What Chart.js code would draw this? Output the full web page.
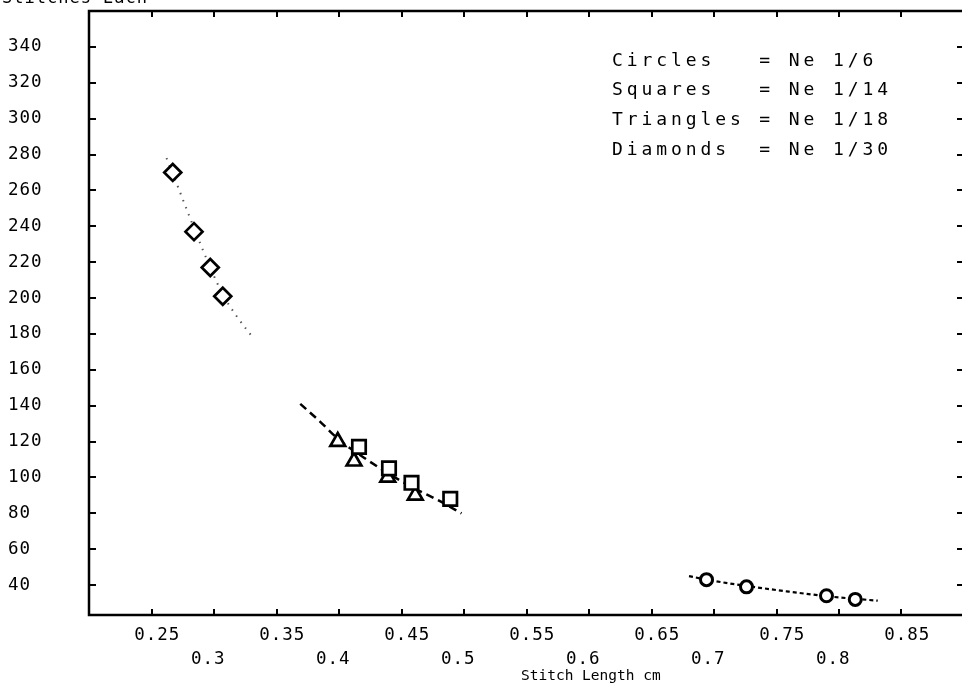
<!DOCTYPE html>
<html><head><meta charset="utf-8">
<script src="https://cdn.jsdelivr.net/npm/chart.js@4/dist/chart.umd.min.js"></script>
<style>html,body{margin:0;padding:0;background:#fff;overflow:hidden}canvas{display:block}</style>
</head><body>
<canvas id="c" width="966" height="688" style="width:966px;height:688px"></canvas>
<script>
// ---- data ----
const circlesX   = [0.694, 0.726, 0.790, 0.813];
const circlesY   = [43, 39, 34, 32];
const squaresX   = [0.416, 0.440, 0.458, 0.489];
const squaresY   = [117, 105, 97, 88];
const trianglesX = [0.399, 0.412, 0.439, 0.461];
const trianglesY = [120, 109, 100, 90];
const diamondsX  = [0.267, 0.284, 0.297, 0.307];
const diamondsY  = [270, 237, 217, 201];

const fitDiamondsX = [0.262, 0.270, 0.284, 0.297, 0.307, 0.318, 0.331];
const fitDiamondsY = [278, 264, 239, 217, 202, 190, 178];
const fitMidX = [0.369, 0.385, 0.400, 0.420, 0.440, 0.460, 0.480, 0.498];
const fitMidY = [141, 131, 121, 111, 102, 94, 87, 80];
const fitCirclesX = [0.680, 0.694, 0.726, 0.760, 0.790, 0.813, 0.831];
const fitCirclesY = [45, 43, 39.5, 36.3, 33.8, 32.3, 31.3];

const xTickValues = [0.25,0.30,0.35,0.40,0.45,0.50,0.55,0.60,0.65,0.70,0.75,0.80,0.85];
const xUpperLabels = ["0.25","","0.35","","0.45","","0.55","","0.65","","0.75","","0.85"];
const xLowerLabels = ["","0.3","","0.4","","0.5","","0.6","","0.7","","0.8",""];
const yTickValues = [40,60,80,100,120,140,160,180,200,220,240,260,280,300,320,340];

const legendLines = ["Circles   = Ne 1/6","Squares   = Ne 1/14","Triangles = Ne 1/18","Diamonds  = Ne 1/30"];
const xTitle = "Stitch Length cm";
const topTitle = "Stitches Each";

const zip = (xs, ys) => xs.map((x, i) => ({x, y: ys[i]}));
const FONT = "'DejaVu Sans Mono', monospace";

const decor = {
  id: 'decor',
  beforeUpdate(chart){ chart.ctx.letterSpacing = '1px'; },
  beforeDraw(chart){ chart.ctx.letterSpacing = '1px'; },
  afterDraw(chart){
    const {ctx, chartArea:a, scales:{x, y}} = chart;
    ctx.save();
    ctx.strokeStyle = '#000';
    ctx.lineWidth = 2.5;
    ctx.beginPath();
    ctx.moveTo(a.left, a.top); ctx.lineTo(a.left, a.bottom);
    ctx.lineTo(a.right, a.bottom); ctx.lineTo(a.right, a.top); ctx.closePath();
    ctx.stroke();
    ctx.lineWidth = 2;
    ctx.beginPath();
    for (const v of xTickValues){
      const px = Math.round(x.getPixelForValue(v));
      ctx.moveTo(px, a.bottom); ctx.lineTo(px, a.bottom - 6);
      ctx.moveTo(px, a.top); ctx.lineTo(px, a.top + 6);
    }
    for (const v of yTickValues){
      const py = Math.round(y.getPixelForValue(v));
      ctx.moveTo(a.left, py); ctx.lineTo(a.left + 7, py);
      ctx.moveTo(a.right, py); ctx.lineTo(a.right - 7, py);
    }
    ctx.stroke();
    ctx.fillStyle = '#000';
    // legend text
    ctx.font = "18px " + FONT;
    ctx.letterSpacing = '3.9px';
    ctx.textAlign = 'left'; ctx.textBaseline = 'middle';
    legendLines.forEach((t, i) => ctx.fillText(t, 612, 61 + i * 29.7));
    // axis title
    ctx.font = "14.5px " + FONT;
    ctx.letterSpacing = '0px';
    ctx.textAlign = 'left'; ctx.textBaseline = 'middle';
    ctx.fillText(xTitle, 521, 676);
    // cropped top title
    ctx.font = "17px " + FONT;
    ctx.letterSpacing = '1px';
    ctx.textBaseline = 'alphabetic';
    ctx.fillText(topTitle, 2, 3);
    ctx.restore();
  }
};

new Chart(document.getElementById('c'), {
  type: 'scatter',
  data: {
    datasets: [
      {label:'Circles', data: zip(circlesX, circlesY), pointStyle:'circle', pointRadius:6, borderWidth:3, borderColor:'#000', backgroundColor:'#fff', showLine:false, order:0},
      {label:'Squares', data: zip(squaresX, squaresY), pointStyle:'rect', pointRadius:9.5, borderWidth:2.7, borderColor:'#000', backgroundColor:'#fff', showLine:false, order:0},
      {label:'Triangles', data: zip(trianglesX, trianglesY), pointStyle:'triangle', pointRadius:8.5, borderWidth:2.7, borderColor:'#000', backgroundColor:'#fff', showLine:false, order:0},
      {label:'Diamonds', data: zip(diamondsX, diamondsY), pointStyle:'rectRot', pointRadius:8.5, borderWidth:2.7, borderColor:'#000', backgroundColor:'#fff', showLine:false, order:0},
      {label:'fit 1/30', data: zip(fitDiamondsX, fitDiamondsY), showLine:true, pointRadius:0, borderColor:'#555', borderWidth:2, borderDash:[1.5,6], tension:0.4, cubicInterpolationMode:'monotone', order:1},
      {label:'fit 1/14 1/18', data: zip(fitMidX, fitMidY), showLine:true, pointRadius:0, borderColor:'#000', borderWidth:2.5, borderDash:[8,5], tension:0.4, cubicInterpolationMode:'monotone', order:1},
      {label:'fit 1/6', data: zip(fitCirclesX, fitCirclesY), showLine:true, pointRadius:0, borderColor:'#000', borderWidth:2.2, borderDash:[4,3], tension:0.4, cubicInterpolationMode:'monotone', order:1}
    ]
  },
  options: {
    responsive: false,
    animation: false,
    devicePixelRatio: 1,
    layout: {autoPadding: false, padding: {left: 8, top: 11, right: 2, bottom: 0}},
    plugins: {legend: {display:false}, title: {display:false}, tooltip: {enabled:false}},
    scales: {
      x: {
        type: 'linear', position: 'bottom', min: 0.2, max: 0.9,
        grid: {display:false, drawTicks:false}, border: {display:false},
        afterBuildTicks: s => { s.ticks = xTickValues.map(v => ({value: v})); },
        afterFit: s => { s.height = 73; s.paddingLeft = 0; s.paddingRight = 0; },
        ticks: {
          autoSkip: false, maxRotation: 0, minRotation: 0, padding: 8, color: '#000',
          font: {family: FONT, size: 17.5, lineHeight: 1.4},
          callback: (v, i) => [xUpperLabels[i] ? ' ' + xUpperLabels[i] : '', xLowerLabels[i] ? xLowerLabels[i] + ' ' : '']
        }
      },
      y: {
        type: 'linear', position: 'left', min: 23.3, max: 360,
        grid: {display:false, drawTicks:false}, border: {display:false},
        afterBuildTicks: s => { s.ticks = yTickValues.map(v => ({value: v})); },
        afterFit: s => { s.width = 81; s.paddingTop = 0; s.paddingBottom = 0; },
        ticks: {crossAlign: 'far', color: '#000', font: {family: FONT, size: 17.5}, callback: v => String(v)}
      }
    }
  },
  plugins: [decor]
});
</script>
</body></html>
